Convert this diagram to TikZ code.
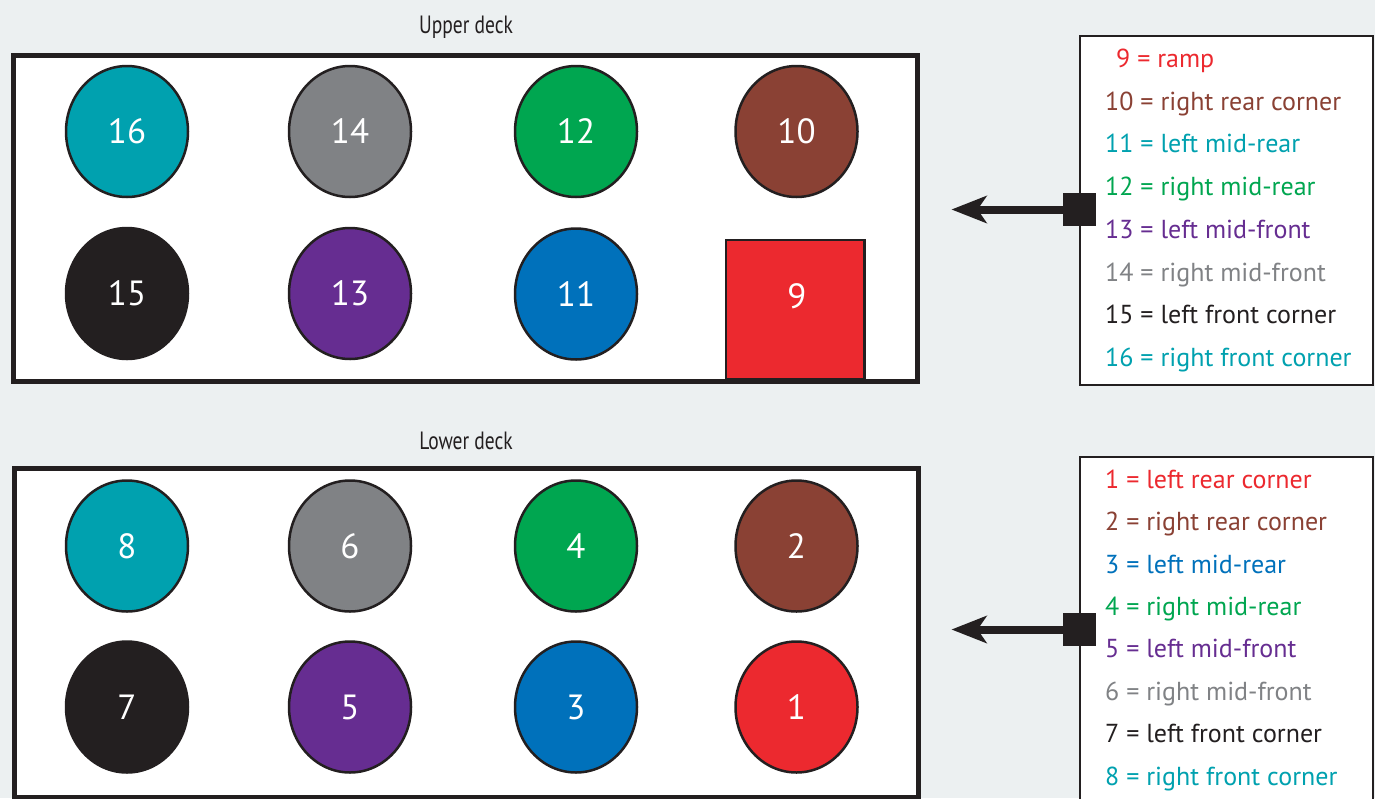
\documentclass[tikz,border=0pt]{standalone}
\usepackage{fontspec}
\setmainfont{PT Sans}
\usetikzlibrary{shapes.geometric,arrows.meta}

\definecolor{paper}{HTML}{ECF0F1}
\definecolor{ink}{HTML}{231F20}
\definecolor{cteal}{HTML}{00A1AF}
\definecolor{cgrey}{HTML}{808285}
\definecolor{cgreen}{HTML}{00A650}
\definecolor{cbrown}{HTML}{8A4134}
\definecolor{cpurple}{HTML}{662D91}
\definecolor{cblue}{HTML}{0071BB}
\definecolor{cred}{HTML}{EC292F}

\begin{document}
\begin{tikzpicture}[x=1pt,y=-1pt,
  deck/.style={draw=ink, line width=5pt, fill=white, inner sep=0pt,
    anchor=north west, minimum width=904pt},
  spot/.style={ellipse, draw=ink, line width=2.5pt, fill=#1,
    minimum width=122pt, minimum height=131pt, inner sep=0pt,
    text=white, font=\fontsize{35}{35}\selectfont},
  ramp/.style={rectangle, draw=ink, line width=2.5pt, fill=cred,
    minimum width=138.5pt, minimum height=139pt, inner sep=0pt},
  num/.style={text=white, inner sep=0pt, font=\fontsize{35}{35}\selectfont},
  deckname/.style={anchor=base, text=ink, inner sep=0pt,
    font=\fontsize{25}{25}\selectfont},
  keybox/.style={draw=ink, line width=2pt, fill=white, inner sep=0pt,
    anchor=north west, minimum width=293pt},
  keyline/.style={anchor=base west, inner sep=0pt, text=#1,
    font=\fontsize{26}{26}\selectfont},
  handle/.style={rectangle, fill=ink, minimum size=32.5pt, inner sep=0pt},
  pointer/.style={draw=ink, line width=8pt,
    -{Stealth[length=35pt, width=27pt, inset=9pt]}}
]
% canvas
\path[use as bounding box, fill=paper] (0,0) rectangle (1375,798);
\clip (0,0) rectangle (1375,798);

% deck titles
\node[deckname] (uptitle) at (466,33) {\scalebox{0.78}[1]{Upper deck}};
\node[deckname] (lowtitle) at (466,449.5) {\scalebox{0.78}[1]{Lower deck}};

% upper deck
\node[deck, minimum height=326.5pt] (upper) at (10.5,52.5) {};
\node[spot=cteal]   (s16) at (127,131.5) {16};
\node[spot=cgrey]   (s14) at (350,131.5) {14};
\node[spot=cgreen]  (s12) at (576,131.5) {12};
\node[spot=cbrown]  (s10) at (796.5,131.5) {10};
\node[spot=ink]     (s15) at (127,293.5) {15};
\node[spot=cpurple] (s13) at (350,293.5) {13};
\node[spot=cblue]   (s11) at (576,294) {11};
\node[ramp] (s9) at (795,309.5) {};
\node[num]  (n9) at (797,296) {9};

% lower deck
\node[deck, minimum height=328.5pt] (lower) at (11.5,466) {};
\node[spot=cteal]   (s8) at (127,546) {8};
\node[spot=cgrey]   (s6) at (350,546) {6};
\node[spot=cgreen]  (s4) at (576,546) {4};
\node[spot=cbrown]  (s2) at (796.5,546) {2};
\node[spot=ink]     (s7) at (127,707) {7};
\node[spot=cpurple] (s5) at (350,707) {5};
\node[spot=cblue]   (s3) at (576,707) {3};
\node[spot=cred]    (s1) at (796.5,707) {1};

% upper key
\node[keybox, minimum height=349.5pt] (keyup) at (1078.5,34.5) {};
\node[keyline=cred]    (k9)  at (1116,67.5)  {9 = ramp};
\node[keyline=cbrown]  (k10) at (1105,110.2) {10 = right rear corner};
\node[keyline=cteal]   (k11) at (1105,152.9) {11 = left mid-rear};
\node[keyline=cgreen]  (k12) at (1105,195.6) {12 = right mid-rear};
\node[keyline=cpurple] (k13) at (1105,238.3) {13 = left mid-front};
\node[keyline=cgrey]   (k14) at (1105,281.0) {14 = right mid-front};
\node[keyline=ink]     (k15) at (1105,323.7) {15 = left front corner};
\node[keyline=cteal]   (k16) at (1105,366.4) {16 = right front corner};

% lower key
\node[keybox, minimum height=360pt] (keylow) at (1078.5,455.5) {};
\node[keyline=cred]    (k1) at (1105,488.3) {1 = left rear corner};
\node[keyline=cbrown]  (k2) at (1105,530.7) {2 = right rear corner};
\node[keyline=cblue]   (k3) at (1105,573.1) {3 = left mid-rear};
\node[keyline=cgreen]  (k4) at (1105,615.5) {4 = right mid-rear};
\node[keyline=cpurple] (k5) at (1105,657.9) {5 = left mid-front};
\node[keyline=cgrey]   (k6) at (1105,700.3) {6 = right mid-front};
\node[keyline=ink]     (k7) at (1105,742.7) {7 = left front corner};
\node[keyline=cteal]   (k8) at (1105,785.1) {8 = right front corner};

% pointers from the keys to the decks
\node[handle] (hup) at (1079.5,209.5) {};
\coordinate (tipup) at (951.5,209.5);
\draw[pointer] (hup.west) -- (tipup);
\node[handle] (hlow) at (1079.5,629.5) {};
\coordinate (tiplow) at (951.5,629.5);
\draw[pointer] (hlow.west) -- (tiplow);
\end{tikzpicture}
\end{document}
